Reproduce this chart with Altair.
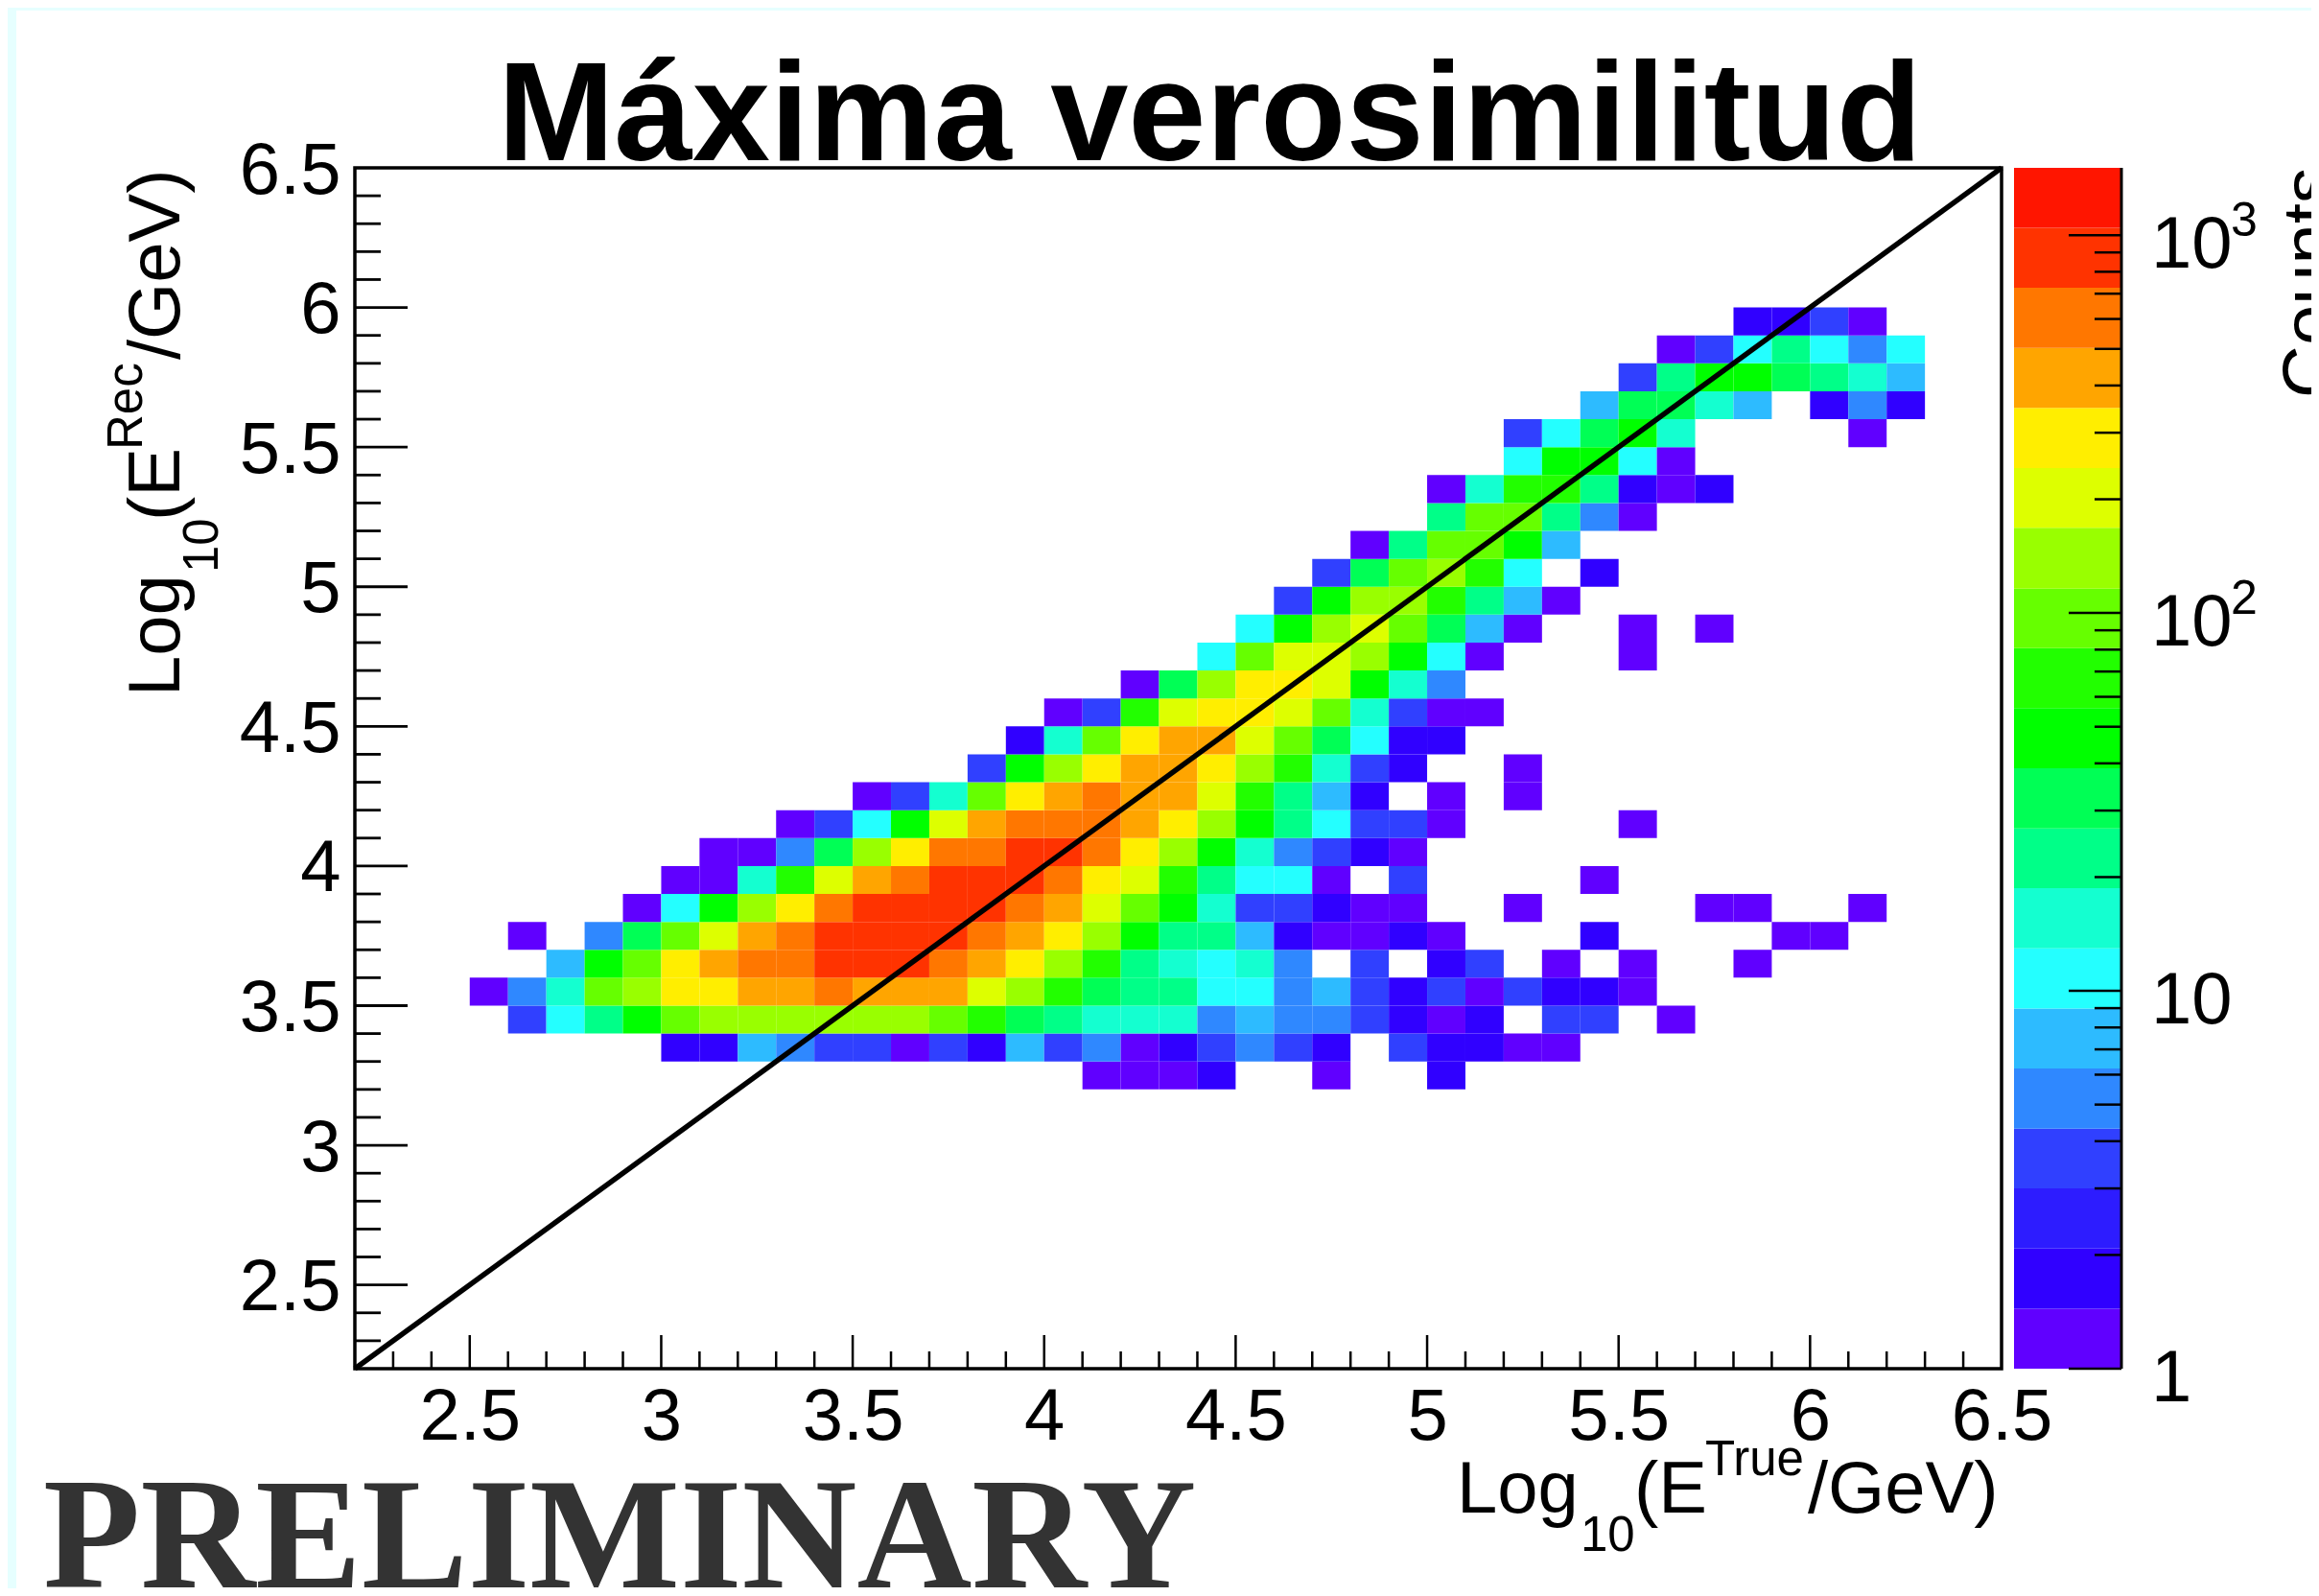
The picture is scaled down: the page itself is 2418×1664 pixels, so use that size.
import altair as alt
import pandas as pd

FONT = "Liberation Sans"
TITLE = "Máxima verosimilitud"
WATERMARK = "PRELIMINARY"

# counts per bin; key = lower y edge, value = (lower x edge of first cell, counts), bin width 0.1, 0 = empty
ROWS = {
    3.2: (4.1, [1,1,1,2,0,0,1,0,0,2]),
    3.3: (3.0, [2,2,7,5,4,4,1,4,2,7,4,5,1,2,4,5,4,2,0,4,2,2,1,1]),
    3.4: (2.6, [4,11,23,47,97,140,140,140,140,140,140,97,68,32,23,16,16,16,5,7,5,5,4,2,1,2,0,4,4,0,1]),
    3.5: (2.5, [1,5,16,97,140,292,292,420,420,606,420,420,420,202,140,68,32,23,23,11,11,5,7,4,2,4,1,4,2,2,1]),
    3.6: (2.7, [7,47,97,292,420,606,606,875,875,875,606,420,292,140,68,23,16,11,16,5,0,4,0,2,4,0,1,0,1,0,0,1]),
    3.7: (2.6, [1,0,5,32,97,202,420,606,875,875,875,875,606,420,292,140,47,23,23,7,2,1,1,2,1,0,0,0,2,0,0,0,0,1,1]),
    3.8: (2.9, [1,11,47,140,292,606,875,875,875,875,606,420,202,97,47,16,4,4,2,1,1,0,0,1,0,0,0,0,1,1,0,0,1]),
    3.9: (3.0, [1,1,16,68,202,420,606,875,875,875,606,292,202,68,23,11,11,1,0,4,0,0,0,0,1]),
    4.0: (3.1, [1,1,5,32,140,292,606,606,875,875,606,292,140,47,16,5,4,2,1]),
    4.1: (3.3, [1,4,11,47,202,420,606,606,606,420,292,140,47,23,11,4,4,1,0,0,0,0,1]),
    4.2: (3.5, [1,4,16,97,292,420,606,420,420,202,68,23,7,2,0,1,0,1]),
    4.3: (3.8, [4,47,140,292,420,420,292,140,68,16,4,2,0,0,1]),
    4.4: (3.9, [2,16,97,292,420,420,202,97,32,11,2,2]),
    4.5: (4.0, [1,4,68,202,292,292,202,97,16,4,1,1]),
    4.6: (4.2, [1,32,140,292,292,202,47,16,5]),
    4.7: (4.4, [11,97,202,202,140,47,11,1,0,0,0,1]),
    4.8: (4.5, [11,47,140,202,97,32,7,1,0,0,1,0,1]),
    4.9: (4.6, [4,47,140,140,68,23,7,1]),
    5.0: (4.7, [4,32,97,140,68,11,0,2]),
    5.1: (4.8, [1,23,97,97,47,7]),
    5.2: (5.0, [23,97,97,23,5,1]),
    5.3: (5.0, [1,16,68,68,23,2,1,2]),
    5.4: (5.2, [11,47,47,11,1]),
    5.5: (5.2, [4,11,32,47,16,0,0,0,0,1]),
    5.6: (5.4, [7,32,32,16,7,0,2,5,2]),
    5.7: (5.5, [4,23,47,47,32,23,16,7]),
    5.8: (5.6, [1,4,11,23,11,5,11]),
    5.9: (5.8, [2,2,4,1]),
}

# colour palette, lowest band first, and the lower edges of the bands above the first
COLORS = ["#6000ff","#3000ff","#2d1cff","#3040ff","#2f88ff","#2dbbff","#24ffff","#14ffd0",
          "#00ff88","#00ff55","#00ff00","#22ff00","#66ff00","#99ff00","#ddff00","#ffee00",
          "#ffa500","#ff7700","#ff3300","#ff1500"]
THRESHOLDS = [1.44,2.08,3.0,4.32,6.23,8.98,12.95,18.7,26.9,38.8,56.0,80.7,116,168,242,349,503,726,1046]
Z_MIN, Z_MAX = 1, 1507

AXIS_MIN, AXIS_MAX = 2.2, 6.5
MAJOR = [2.5,3,3.5,4,4.5,5,5.5,6]
LABELS = [2.5,3,3.5,4,4.5,5,5.5,6,6.5]
MINOR = [2.3,2.4,2.6,2.7,2.8,2.9,3.1,3.2,3.3,3.4,3.6,3.7,3.8,3.9,4.1,4.2,4.3,4.4,
         4.6,4.7,4.8,4.9,5.1,5.2,5.3,5.4,5.6,5.7,5.8,5.9,6.1,6.2,6.3,6.4]
DIAGONAL = [2.2, 6.5]

Z_MAJOR = [1,10,100,1000]
Z_TEXT = ["1","10","10","10"]
Z_SUP = ["","","2","3"]
Z_MINOR = [2,3,4,5,6,7,8,9,20,30,40,50,60,70,80,90,200,300,400,500,600,700,800,900]

# layout, in pixels of the picture; the svg starts at the 8px page margin
M = 8
CANVAS_W, CANVAS_H = 2402, 1648
L, R, T, B = 370 - M, 2087 - M, 175 - M, 1427 - M
BAR_L, BAR_R = 2100 - M, 2212 - M
BG = "#e6ffff"

records = []
for yl, (xs, vals) in ROWS.items():
    for i, n in enumerate(vals):
        if n > 0:
            x0 = round(xs + i * 0.1, 1)
            records.append({"x0": x0, "x1": round(x0 + 0.1, 1), "y0": yl, "y1": round(yl + 0.1, 1), "n": n})
cells = pd.DataFrame(records)

xscale = alt.Scale(domain=[AXIS_MIN, AXIS_MAX], range=[L, R], nice=False, zero=False)
yscale = alt.Scale(domain=[AXIS_MIN, AXIS_MAX], range=[B, T], nice=False, zero=False)
zscale = alt.Scale(type="log", domain=[Z_MIN, Z_MAX], range=[B, T], nice=False)
cscale = alt.Scale(type="threshold", domain=THRESHOLDS, range=COLORS)
one = alt.Data(values=[{"a": 1}])


def txt(s, px, py, size, angle=None, weight=None, font=FONT, color="black"):
    kw = dict(text=s, align="left", baseline="alphabetic", fontSize=size, font=font, color=color)
    if angle is not None:
        kw["angle"] = angle
    if weight is not None:
        kw["fontWeight"] = weight
    return alt.Chart(one).mark_text(**kw).encode(x=alt.value(px - M), y=alt.value(py - M))


def strip(x0, x1, y0, y1, color):
    return alt.Chart(one).mark_rect(color=color).encode(
        x=alt.value(x0), x2=alt.value(x1), y=alt.value(y0), y2=alt.value(y1))


x_axis = alt.Axis(values=LABELS, format="~g", title=None, grid=False, ticks=False, domain=False,
                  labelFont=FONT, labelFontSize=76, labelColor="black", labelPadding=13,
                  labelOverlap=False, labelFlush=False, labelBound=False, tickSize=0,
                  offset=B - CANVAS_H)
y_axis = alt.Axis(values=LABELS, format="~g", title=None, grid=False, ticks=False, domain=False,
                  labelFont=FONT, labelFontSize=76, labelColor="black", labelPadding=15,
                  labelOverlap=False, labelFlush=False, labelBound=False, tickSize=0,
                  labelOffset=3, offset=-L)

heat = alt.Chart(cells).mark_rect().encode(
    x=alt.X("x0:Q", scale=xscale, axis=x_axis),
    x2="x1:Q",
    y=alt.Y("y0:Q", scale=yscale, axis=y_axis),
    y2="y1:Q",
    color=alt.Color("n:Q", scale=cscale, legend=None),
)

diag = alt.Chart(pd.DataFrame({"v": DIAGONAL})).mark_line(color="black", strokeWidth=5.5).encode(
    x=alt.X("v:Q", scale=xscale, axis=None), y=alt.Y("v:Q", scale=yscale, axis=None))


def xticks(vals, ln):
    return alt.Chart(pd.DataFrame({"v": vals})).mark_rule(color="black", strokeWidth=2.5).encode(
        x=alt.X("v:Q", scale=xscale, axis=None), y=alt.value(B), y2=alt.value(B - ln))


def yticks(vals, ln):
    return alt.Chart(pd.DataFrame({"v": vals})).mark_rule(color="black", strokeWidth=2.8).encode(
        y=alt.Y("v:Q", scale=yscale, axis=None), x=alt.value(L), x2=alt.value(L + ln))


frame = alt.Chart(one).mark_rect(fill=None, stroke="black", strokeWidth=3.5).encode(
    x=alt.value(L), x2=alt.value(R), y=alt.value(T), y2=alt.value(B))

# colour bar
edges = [Z_MIN] + THRESHOLDS + [Z_MAX]
bands = pd.DataFrame({"lo": edges[:-1], "hi": edges[1:]})
bar_rect = alt.Chart(bands).mark_rect().encode(
    x=alt.value(BAR_L), x2=alt.value(BAR_R),
    y=alt.Y("lo:Q", scale=zscale, axis=None), y2="hi:Q",
    color=alt.Color("lo:Q", scale=cscale, legend=None),
)


def zticks(vals, ln):
    return alt.Chart(pd.DataFrame({"v": vals})).mark_rule(color="black", strokeWidth=2.5).encode(
        y=alt.Y("v:Q", scale=zscale, axis=None), x=alt.value(BAR_R), x2=alt.value(BAR_R - ln))


zlabels = pd.DataFrame({"v": Z_MAJOR, "t": Z_TEXT, "s": Z_SUP})
zmain = alt.Chart(zlabels).mark_text(align="left", baseline="middle", font=FONT, fontSize=76,
                                     color="black", dy=11).encode(
    y=alt.Y("v:Q", scale=zscale, axis=None), x=alt.value(BAR_L + 143), text="t:N")
zsup = alt.Chart(zlabels).mark_text(align="left", baseline="middle", font=FONT, fontSize=50,
                                    color="black", dy=-14).encode(
    y=alt.Y("v:Q", scale=zscale, axis=None), x=alt.value(BAR_L + 226), text="s:N")
bar_line = alt.Chart(one).mark_rule(color="black", strokeWidth=3).encode(
    x=alt.value(BAR_R), y=alt.value(T), y2=alt.value(B))

chart = alt.layer(
    strip(0, 9, 0, CANVAS_H, BG),
    strip(0, CANVAS_W, 0, 3, BG),
    heat, diag,
    xticks(MINOR, 18), xticks(MAJOR, 35), yticks(MINOR, 27), yticks(MAJOR, 55),
    frame,
    bar_rect, zticks(Z_MINOR, 28), zticks(Z_MAJOR, 55), bar_line, zmain, zsup,
    txt(TITLE, 519, 167, 146, weight="bold"),
    txt(WATERMARK, 45, 1655, 166, font="Liberation Serif", weight="bold", color="#333333"),
    txt("Log", 1519, 1577, 76),
    txt("10", 1648, 1617, 51),
    txt("(E", 1704, 1577, 76),
    txt("True", 1778, 1538, 51),
    txt("/GeV)", 1885, 1577, 76),
    txt("Log", 187, 726, 76, angle=270),
    txt("10", 227, 597, 51, angle=270),
    txt("(E", 187, 543, 76, angle=270),
    txt("Rec", 148, 469, 51, angle=270),
    txt("/GeV)", 187, 375, 76, angle=270),
    txt("Counts", 2433, 415, 76, angle=270),
).resolve_scale(x="independent", y="independent", color="independent").properties(
    width=CANVAS_W, height=CANVAS_H, padding=0, autosize=alt.AutoSizeParams(type="none")
).configure_view(stroke=None)

chart.save("out.html", embed_options={"renderer": "svg", "actions": False})
